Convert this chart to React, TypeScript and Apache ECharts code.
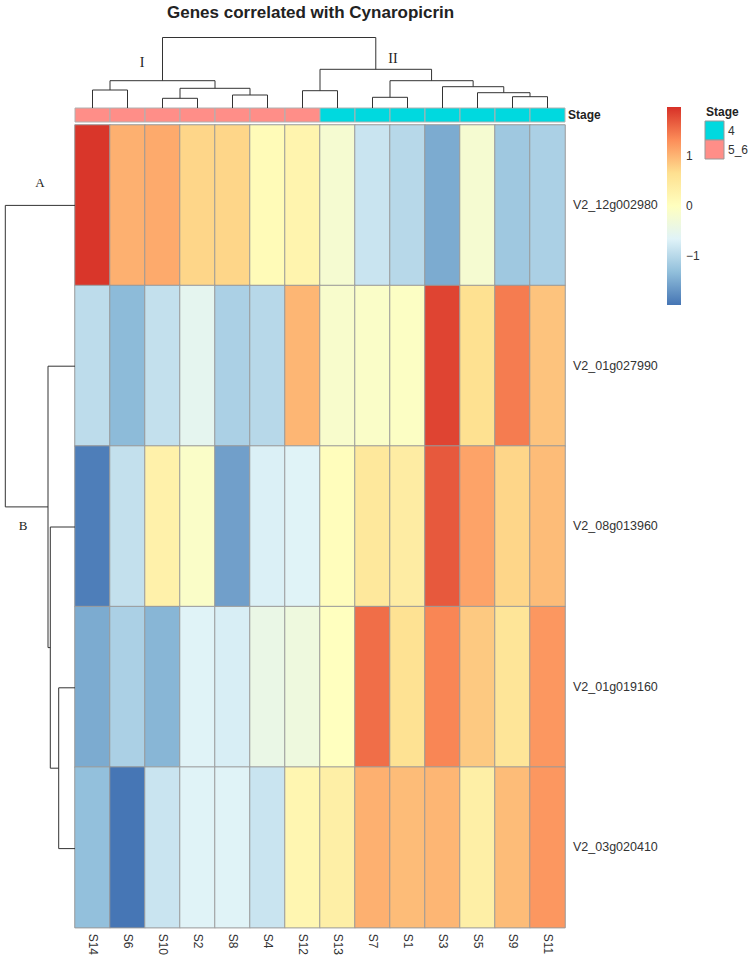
import React, { useEffect, useRef } from "react";
import * as echarts from "echarts";

// ---------- data ----------
const columns = ["S14", "S6", "S10", "S2", "S8", "S4", "S12", "S13", "S7", "S1", "S3", "S5", "S9", "S11"];
const genes = ["V2_12g002980", "V2_01g027990", "V2_08g013960", "V2_01g019160", "V2_03g020410"];
const columnStage = ["5_6", "5_6", "5_6", "5_6", "5_6", "5_6", "5_6", "4", "4", "4", "4", "4", "4", "4"];
const stageLevels = ["4", "5_6"];

// row-scaled expression (z-scores), rows in gene order, columns in column order
const rowV2_12g002980 = [1.95, 1.05, 1.1, 0.75, 0.75, 0.1, 0.25, -0.2, -0.85, -1.0, -1.5, -0.2, -1.2, -1.1];
const rowV2_01g027990 = [-0.95, -1.35, -0.9, -0.55, -1.1, -1.0, 1.0, -0.15, -0.1, -0.05, 1.85, 0.65, 1.45, 0.9];
const rowV2_08g013960 = [-1.9, -0.9, 0.3, -0.1, -1.6, -0.7, -0.65, 0.05, 0.5, 0.4, 1.7, 1.15, 0.75, 0.95];
const rowV2_01g019160 = [-1.5, -1.1, -1.4, -0.65, -0.72, -0.45, -0.35, 0.0, 1.55, 0.62, 1.38, 0.85, 0.55, 1.25];
const rowV2_03g020410 = [-1.3, -1.97, -0.85, -0.65, -0.65, -0.85, 0.2, 0.35, 1.05, 0.95, 1.0, 0.35, 0.95, 1.25];
const matrix = [rowV2_12g002980, rowV2_01g027990, rowV2_08g013960, rowV2_01g019160, rowV2_03g020410];

const zMin = -1.98;
const zMax = 1.99;
const colorbarTicks = [-1, 0, 1];

// hclust-style merges: negative = leaf (1-based, display order), positive = earlier merge (1-based); [a, b, height]
const columnMerges = [
  [-3, -4, 9.7],
  [-9, -10, 10.7],
  [-13, -14, 11.3],
  [-5, -6, 13.0],
  [-12, 3, 15.3],
  [-7, -8, 17.3],
  [-1, -2, 18.0],
  [1, 4, 19.7],
  [-11, 5, 21.3],
  [7, 8, 27.3],
  [2, 9, 27.3],
  [6, 11, 38.7],
  [10, 12, 70.5],
];
const rowMerges = [
  [-4, -5, 16.3],
  [-3, 1, 24.7],
  [-2, 2, 27.0],
  [-1, 3, 69.7],
];
const columnClusterLabels = ["I", "II"];
const rowClusterLabels = ["A", "B"];

// ---------- styles ----------
const palette = ["#4575B4", "#91BFDB", "#E0F3F8", "#FFFFBF", "#FEE090", "#FC8D59", "#D73027"];
const stageColors: Record<string, string> = { "4": "#00D9DF", "5_6": "#FF8E88" };
const SANS = "'Liberation Sans', Arial, sans-serif";
const SERIF = "'Liberation Serif', 'DejaVu Serif', serif";
const TXT = "#333";

function layoutDendrogram(merges: number[][]) {
  const pos: number[] = [];
  const hts: number[] = [];
  const get = (ref: number) => (ref < 0 ? [-ref - 1 + 0.5, 0] : [pos[ref - 1], hts[ref - 1]]);
  const segs: number[][] = [];
  merges.forEach(([a, b, h]) => {
    const [xa, ha] = get(a);
    const [xb, hb] = get(b);
    segs.push([xa, ha, xb, hb, h]);
    pos.push((xa + xb) / 2);
    hts.push(h);
  });
  return segs;
}

export default function App() {
  const ref = useRef<HTMLDivElement>(null);
  useEffect(() => {
    if (!ref.current) return;
    const chart = echarts.init(ref.current, null, { renderer: "svg" });

    const heatData: number[][] = [];
    matrix.forEach((row, r) => row.forEach((v, c) => heatData.push([c, r, v])));

    const colSegs = layoutDendrogram(columnMerges);
    const rowSegs = layoutDendrogram(rowMerges);
    const colRootH = columnMerges[columnMerges.length - 1][2];
    const rowRootH = rowMerges[rowMerges.length - 1][2];

    const lineStyle = { stroke: "#333", fill: null, lineWidth: 1 };

    const option: any = {
      animation: false,
      backgroundColor: "#fff",
      title: {
        text: "Genes correlated with Cynaropicrin",
        left: 162,
        top: -1,
        textStyle: { fontFamily: SANS, fontSize: 17, fontWeight: "bold", color: "#222" },
      },
      grid: [
        { left: 75, top: 125, width: 490, height: 804 }, // heatmap
        { left: 75, top: 108, width: 490, height: 14 }, // stage bar
        { left: 75, top: 108 - colRootH, width: 490, height: colRootH }, // column dendrogram
        { left: 75 - rowRootH, top: 125, width: rowRootH, height: 804 }, // row dendrogram
        { left: 667, top: 107, width: 14, height: 198 }, // colorbar
      ],
      xAxis: [
        {
          gridIndex: 0,
          type: "category",
          data: columns,
          position: "bottom",
          axisLine: { show: false },
          axisTick: { show: false },
          splitLine: { show: false },
          axisLabel: { rotate: -90, margin: 6, fontFamily: SANS, fontSize: 12, color: TXT },
        },
        { gridIndex: 1, type: "category", data: columns, show: false },
        { gridIndex: 2, type: "value", min: 0, max: columns.length, show: false },
        { gridIndex: 3, type: "value", min: 0, max: rowRootH, inverse: true, show: false },
        { gridIndex: 4, type: "value", min: 0, max: 1, show: false },
      ],
      yAxis: [
        {
          gridIndex: 0,
          type: "category",
          data: genes,
          inverse: true,
          position: "right",
          axisLine: { show: false },
          axisTick: { show: false },
          splitLine: { show: false },
          axisLabel: { margin: 8, fontFamily: SANS, fontSize: 12.5, color: TXT },
        },
        {
          gridIndex: 1,
          type: "category",
          data: ["Stage"],
          position: "right",
          axisLine: { show: false },
          axisTick: { show: false },
          axisLabel: { margin: 3, fontFamily: SANS, fontSize: 12, fontWeight: "bold", color: "#222" },
        },
        { gridIndex: 2, type: "value", min: 0, max: colRootH, show: false },
        { gridIndex: 3, type: "value", min: 0, max: genes.length, inverse: true, show: false },
        {
          gridIndex: 4,
          type: "value",
          min: zMin,
          max: zMax,
          position: "right",
          axisLine: { show: false },
          axisTick: { show: false },
          splitLine: { show: false },
          axisLabel: {
            margin: 5,
            fontFamily: SANS,
            fontSize: 12,
            color: TXT,
            customValues: colorbarTicks,
            formatter: (v: number) => (v < 0 ? "\u2212" + Math.abs(v) : String(v)),
          },
        },
      ],
      visualMap: {
        type: "continuous",
        show: false,
        min: zMin,
        max: zMax,
        seriesIndex: 0,
        dimension: 2,
        inRange: { color: palette },
      },
      series: [
        {
          type: "heatmap",
          xAxisIndex: 0,
          yAxisIndex: 0,
          data: heatData,
          itemStyle: { borderColor: "#999", borderWidth: 1 },
          emphasis: { disabled: true },
        },
        {
          type: "custom",
          xAxisIndex: 1,
          yAxisIndex: 1,
          data: columnStage.map((s, i) => [i, stageLevels.indexOf(s)]),
          encode: { x: 0 },
          renderItem: (params: any, api: any) => {
            const i = api.value(0);
            const lvl = stageLevels[api.value(1)];
            const c = api.coord([i, 0]);
            const w = api.size([1, 0])[0];
            const cs = params.coordSys;
            return {
              type: "rect",
              shape: { x: c[0] - w / 2, y: cs.y, width: w, height: cs.height },
              style: { fill: stageColors[lvl], stroke: "#b0b0b0", lineWidth: 1 },
            };
          },
        },
        {
          type: "custom",
          xAxisIndex: 2,
          yAxisIndex: 2,
          data: colSegs,
          encode: { x: [0, 2], y: [1, 3, 4] },
          renderItem: (_p: any, api: any) => {
            const xa = api.value(0), ha = api.value(1), xb = api.value(2), hb = api.value(3), h = api.value(4);
            return {
              type: "polyline",
              shape: { points: [api.coord([xa, ha]), api.coord([xa, h]), api.coord([xb, h]), api.coord([xb, hb])] },
              style: lineStyle,
            };
          },
        },
        {
          type: "custom",
          xAxisIndex: 3,
          yAxisIndex: 3,
          data: rowSegs,
          encode: { x: [1, 3, 4], y: [0, 2] },
          renderItem: (_p: any, api: any) => {
            const ya = api.value(0), ha = api.value(1), yb = api.value(2), hb = api.value(3), h = api.value(4);
            return {
              type: "polyline",
              shape: { points: [api.coord([ha, ya]), api.coord([h, ya]), api.coord([h, yb]), api.coord([hb, yb])] },
              style: lineStyle,
            };
          },
        },
        {
          type: "custom",
          xAxisIndex: 4,
          yAxisIndex: 4,
          data: [[0, zMin]],
          renderItem: (params: any) => {
            const cs = params.coordSys;
            const n = palette.length;
            return {
              type: "rect",
              shape: { x: cs.x, y: cs.y, width: cs.width, height: cs.height },
              style: {
                fill: new echarts.graphic.LinearGradient(
                  0, 1, 0, 0,
                  palette.map((col, k) => ({ offset: k / (n - 1), color: col }))
                ),
              },
            };
          },
        },
      ],
      graphic: [
        { type: "text", x: 142, y: 62, style: { text: columnClusterLabels[0], font: `14px ${SERIF}`, fill: "#222", align: "center", verticalAlign: "middle" } },
        { type: "text", x: 393, y: 58, style: { text: columnClusterLabels[1], font: `14px ${SERIF}`, fill: "#222", align: "center", verticalAlign: "middle" } },
        { type: "text", x: 40, y: 182, style: { text: rowClusterLabels[0], font: `13px ${SERIF}`, fill: "#222", align: "center", verticalAlign: "middle" } },
        { type: "text", x: 23, y: 525, style: { text: rowClusterLabels[1], font: `13px ${SERIF}`, fill: "#222", align: "center", verticalAlign: "middle" } },
        // stage legend
        { type: "text", x: 706, y: 112, style: { text: "Stage", font: `bold 12px ${SANS}`, fill: "#222", verticalAlign: "middle" } },
        { type: "rect", shape: { x: 705, y: 121, width: 19, height: 19 }, style: { fill: stageColors[stageLevels[0]], stroke: "#999", lineWidth: 1 } },
        { type: "rect", shape: { x: 705, y: 140, width: 19, height: 19 }, style: { fill: stageColors[stageLevels[1]], stroke: "#999", lineWidth: 1 } },
        { type: "text", x: 728, y: 131, style: { text: stageLevels[0], font: `12px ${SANS}`, fill: TXT, verticalAlign: "middle" } },
        { type: "text", x: 728, y: 150, style: { text: stageLevels[1], font: `12px ${SANS}`, fill: TXT, verticalAlign: "middle" } },
      ],
    };

    chart.setOption(option);
    return () => chart.dispose();
  }, []);

  return <div ref={ref} style={{ position: "absolute", left: 0, top: 0, width: 750, height: 958 }} />;
}
